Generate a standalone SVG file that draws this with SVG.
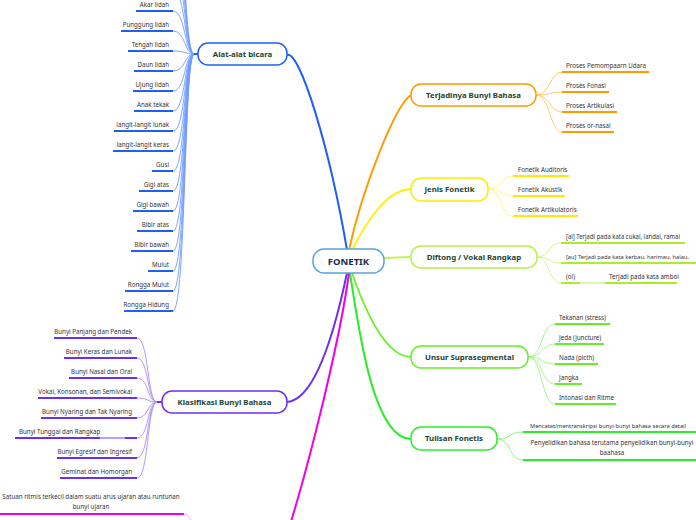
<svg xmlns="http://www.w3.org/2000/svg" width="696" height="520" viewBox="0 0 696 520">
<style>
text{font-family:"Noto Sans","Open Sans",sans-serif}
.leaf{font-size:6.2px;fill:#333}
.nt{font-size:7.8px;font-weight:bold;fill:#1b4332;text-anchor:middle}
.node{fill:#fff;stroke-width:1.5}
.c{fill:none}
.lc{fill:none;stroke-width:0.9}
.ul{fill:none;stroke-width:2}
</style>
<rect width="696" height="520" fill="#fff"/>
<g id="connectors">
<path class="c" stroke="#1f5ff5" stroke-width="2" d="M347,250 C330,150 300,50 287,55"/>
<path class="c" stroke="#ff9a00" stroke-width="2" d="M349,250 C362,190 395,105 411,95"/>
<path class="c" stroke="#fff000" stroke-width="1.8" d="M352,250 C365,225 385,190 411,189"/>
<path class="c" stroke="#c3f25a" stroke-width="1.8" d="M384,258 L411,257"/>
<path class="c" stroke="#70f030" stroke-width="1.8" d="M352,273 C365,310 385,357 411,357"/>
<path class="c" stroke="#28ee28" stroke-width="2" d="M350,273 C360,340 375,439 411,439"/>
<path class="c" stroke="#6a2ff5" stroke-width="2" d="M347,273 C335,330 315,400 287,402"/>
<path class="c" stroke="#ee00ee" stroke-width="2" d="M349,273 C340,340 310,460 290,525"/>
<!-- Alat-alat bicara leaves -->
<g stroke="#6f9bff">
<path class="c" stroke="#1f5ff5" stroke-width="2" d="M193,54 L198,54"/>
<path class="lc" d="M194,54 C184,54 186,-89 173,-89"/>
<path class="lc" d="M194,54 C184,54 186,-69 173,-69"/>
<path class="lc" d="M194,54 C184,54 186,-49 173,-49"/>
<path class="lc" d="M194,54 C184,54 186,-29 173,-29"/>
<path class="lc" d="M194,54 C184,54 186,-9 173,-9"/>
<path class="lc" d="M194,54 C184,54 186,11 173,11"/>
<path class="lc" d="M194,54 C184,54 186,31 173,31"/>
<path class="lc" d="M194,54 C184,54 186,51 173,51"/>
<path class="lc" d="M194,54 C184,54 186,71 173,71"/>
<path class="lc" d="M194,54 C184,54 186,91 173,91"/>
<path class="lc" d="M194,54 C184,54 186,111 173,111"/>
<path class="lc" d="M194,54 C184,54 186,131 173,131"/>
<path class="lc" d="M194,54 C184,54 186,151 173,151"/>
<path class="lc" d="M194,54 C184,54 186,171 173,171"/>
<path class="lc" d="M194,54 C184,54 186,191 173,191"/>
<path class="lc" d="M194,54 C184,54 186,211 173,211"/>
<path class="lc" d="M194,54 C184,54 186,231 173,231"/>
<path class="lc" d="M194,54 C184,54 186,251 173,251"/>
<path class="lc" d="M194,54 C184,54 186,271 173,271"/>
<path class="lc" d="M194,54 C184,54 186,291 173,291"/>
<path class="lc" d="M194,54 C184,54 186,311 173,311"/>
</g>
<!-- Klasifikasi leaves -->
<g stroke="#a98bff">
<path class="c" stroke="#6a2ff5" stroke-width="2" d="M156,402 L162,402"/>
<path class="lc" d="M157,402 C147,402 149,338 137,338"/>
<path class="lc" d="M157,402 C147,402 149,358 137,358"/>
<path class="lc" d="M157,402 C147,402 149,378 137,378"/>
<path class="lc" d="M157,402 C147,402 149,398 137,398"/>
<path class="lc" d="M157,402 C147,402 149,418 137,418"/>
<path class="lc" d="M157,402 C147,402 149,438 137,438"/>
<path class="lc" d="M157,402 C147,402 149,458 137,458"/>
<path class="lc" d="M157,402 C147,402 149,478 137,478"/>
</g>
<!-- Terjadinya leaves -->
<g stroke="#ffc466">
<path class="lc" d="M536,95 C550,95 550,72 562,72"/>
<path class="lc" d="M536,95 C550,95 550,92 562,92"/>
<path class="lc" d="M536,95 C550,95 550,112 562,112"/>
<path class="lc" d="M536,95 C550,95 550,132 562,132"/>
</g>
<!-- Jenis leaves -->
<g stroke="#fff27a">
<path class="lc" d="M488,189 C502,189 500,176 513,176"/>
<path class="lc" d="M488,189 C502,189 500,196 513,196"/>
<path class="lc" d="M488,189 C502,189 500,216 513,216"/>
</g>
<!-- Diftong leaves -->
<g stroke="#cdf58a">
<path class="lc" d="M537,257 C550,257 548,243 561,243"/>
<path class="lc" d="M537,257 C550,257 548,263 561,263"/>
<path class="lc" d="M537,257 C550,257 548,283 561,283"/>
</g>
<!-- Unsur leaves -->
<g stroke="#9cf57a">
<path class="lc" d="M528,357 C543,357 541,324 555,324"/>
<path class="lc" d="M528,357 C543,357 541,344 555,344"/>
<path class="lc" d="M528,357 C543,357 541,364 555,364"/>
<path class="lc" d="M528,357 C543,357 541,384 555,384"/>
<path class="lc" d="M528,357 C543,357 541,404 555,404"/>
</g>
<!-- Tulisan leaves -->
<g stroke="#7cf57c">
<path class="lc" d="M497,439 C512,439 508,432 523,432"/>
<path class="lc" d="M497,439 C512,439 508,460 523,460"/>
</g>
<!-- bottom magenta leaf -->
<path class="lc" stroke="#f7a0f7" d="M184,514 C190,514 192,524 196,530"/>
</g>

<g id="fonetik">
<rect class="node" x="313" y="249" width="71" height="24" rx="11" stroke="#5aa3dc"/>
<text x="348.5" y="264.5" text-anchor="middle" font-size="9.5px" font-weight="bold" fill="#1a2b4c">FONETIK</text>
</g>

<g id="alat">
<rect class="node" x="198" y="43" width="89" height="22" rx="10" stroke="#1f5ff5"/>
<text class="nt" x="242.5" y="56.8">Alat-alat bicara</text>
<g stroke="#1f5ff5">
<path class="ul" d="M136,11H173M121,31H173M128,51H173M134,71H173M133,91H173M134,111H173M114,131H173M113,151H173M152,171H173M139,191H173M133,211H173M137,231H173M131,251H173M148,271H173M125,291H173M124,311H173"/>
</g>
<g class="leaf" text-anchor="end">
<text x="169" y="7">Akar lidah</text>
<text x="169" y="27">Punggung lidah</text>
<text x="169" y="47">Tengah lidah</text>
<text x="169" y="67">Daun lidah</text>
<text x="169" y="87">Ujung lidah</text>
<text x="169" y="107">Anak tekak</text>
<text x="169" y="127">langit-langit lunak</text>
<text x="169" y="147">langit-langit keras</text>
<text x="169" y="167">Gusi</text>
<text x="169" y="187">Gigi atas</text>
<text x="169" y="207">Gigi bawah</text>
<text x="169" y="227">Bibir atas</text>
<text x="169" y="247">Bibir bawah</text>
<text x="169" y="267">Mulut</text>
<text x="169" y="287">Rongga Mulut</text>
<text x="169" y="307">Rongga Hidung</text>
</g>
</g>

<g id="klasifikasi">
<rect class="node" x="162" y="391" width="125" height="22" rx="10" stroke="#6a2ff5"/>
<text class="nt" x="224.5" y="404.8">Klasifikasi Bunyi Bahasa</text>
<g stroke="#6a2ff5">
<path class="ul" d="M54,338H137M64,358H137M69,378H137M38,398H137M41,418H137M15,438H100M125,438H137M57,458H137M60,478H137"/>
<path class="ul" stroke="#b9a0ff" d="M100,438H125"/>
</g>
<g class="leaf" text-anchor="end">
<text x="132" y="334">Bunyi Panjang dan Pendek</text>
<text x="132" y="354">Bunyi Keras dan Lunak</text>
<text x="132" y="374">Bunyi Nasal dan Oral</text>
<text x="132" y="394">Vokal, Konsonan, dan Semivokal</text>
<text x="132" y="414">Bunyi Nyaring dan Tak Nyaring</text>
<text x="19" y="434" text-anchor="start">Bunyi Tunggal dan Rangkap</text>
<text x="132" y="454">Bunyi Egresif dan Ingresif</text>
<text x="132" y="474">Geminat dan Homorgan</text>
</g>
</g>

<g id="satuan">
<path class="ul" stroke="#ee00ee" d="M0,514H184"/>
<text class="leaf" x="91" y="499" text-anchor="middle">Satuan ritmis terkecil dalam suatu arus ujaran atau runtunan</text>
<text class="leaf" x="91" y="508.5" text-anchor="middle">bunyi ujaran</text>
</g>

<g id="terjadinya">
<rect class="node" x="411" y="84" width="125" height="22" rx="10" stroke="#ff9a00"/>
<text class="nt" x="473.5" y="97.8">Terjadinya Bunyi Bahasa</text>
<path class="ul" stroke="#ff9a00" d="M562,72H649M562,92H609M562,112H617M562,132H614"/>
<g class="leaf">
<text x="566" y="68">Proses Pemompaarn Udara</text>
<text x="566" y="88">Proses Fonasi</text>
<text x="566" y="108">Proses Artikulasi</text>
<text x="566" y="128">Proses or-nasal</text>
</g>
</g>

<g id="jenis">
<rect class="node" x="411" y="178" width="77" height="23" rx="10" stroke="#ffeb00"/>
<text class="nt" x="449.5" y="192.3">Jenis Fonetik</text>
<path class="ul" stroke="#ffeb00" d="M513,176H569M513,196H565M513,216H578"/>
<g class="leaf">
<text x="518" y="172">Fonetik Auditoris</text>
<text x="518" y="192">Fonetik Akustik</text>
<text x="518" y="212">Fonetik Artikulatoris</text>
</g>
</g>

<g id="diftong">
<rect class="node" x="411" y="246" width="126" height="22" rx="10" stroke="#b8f04a"/>
<text class="nt" x="474" y="259.8">Diftong / Vokal Rangkap</text>
<path class="ul" stroke="#a8ee2a" d="M561,243H685M561,263H696M561,283H580M605,283H677"/>
<path class="ul" stroke="#dcf8b0" d="M580,283H605"/>
<g class="leaf">
<text x="566" y="239" textLength="114" lengthAdjust="spacingAndGlyphs">[ai] Terjadi pada kata cukai, landai, ramai</text>
<text x="566" y="259" font-size="5.9px" textLength="123" lengthAdjust="spacingAndGlyphs">[au] Terjadi pada kata kerbau, harimau, halau.</text>
<text x="566" y="279">(oi)<tspan x="609">Terjadi pada kata amboi</tspan></text>
</g>
</g>

<g id="unsur">
<rect class="node" x="411" y="346" width="117" height="22" rx="10" stroke="#66ee2a"/>
<text class="nt" x="469.5" y="359.8">Unsur Suprasegmental</text>
<path class="ul" stroke="#66ee2a" d="M555,324H610M555,344H604M555,364H598M555,384H582M555,404H616"/>
<g class="leaf">
<text x="559" y="320">Tekanan (stress)</text>
<text x="559" y="340">Jeda (juncture)</text>
<text x="559" y="360">Nada (picth)</text>
<text x="559" y="380">Jangka</text>
<text x="559" y="400">Intonasi dan Ritme</text>
</g>
</g>

<g id="tulisan">
<rect class="node" x="411" y="427" width="86" height="23" rx="10" stroke="#2aee2a"/>
<text class="nt" x="454" y="441.3">Tulisan Fonetis</text>
<path class="ul" stroke="#2aee2a" d="M523,432H696M523,460H696"/>
<g class="leaf" text-anchor="middle">
<text x="608" y="428" font-size="5.9px" textLength="156" lengthAdjust="spacingAndGlyphs">Mencatat/mentranskripsi bunyi-bunyi bahasa secara detail</text>
<text x="612" y="445">Penyelidikan bahasa terutama penyelidikan bunyi-bunyi</text>
<text x="612" y="454.5">baahasa</text>
</g>
</g>
</svg>
